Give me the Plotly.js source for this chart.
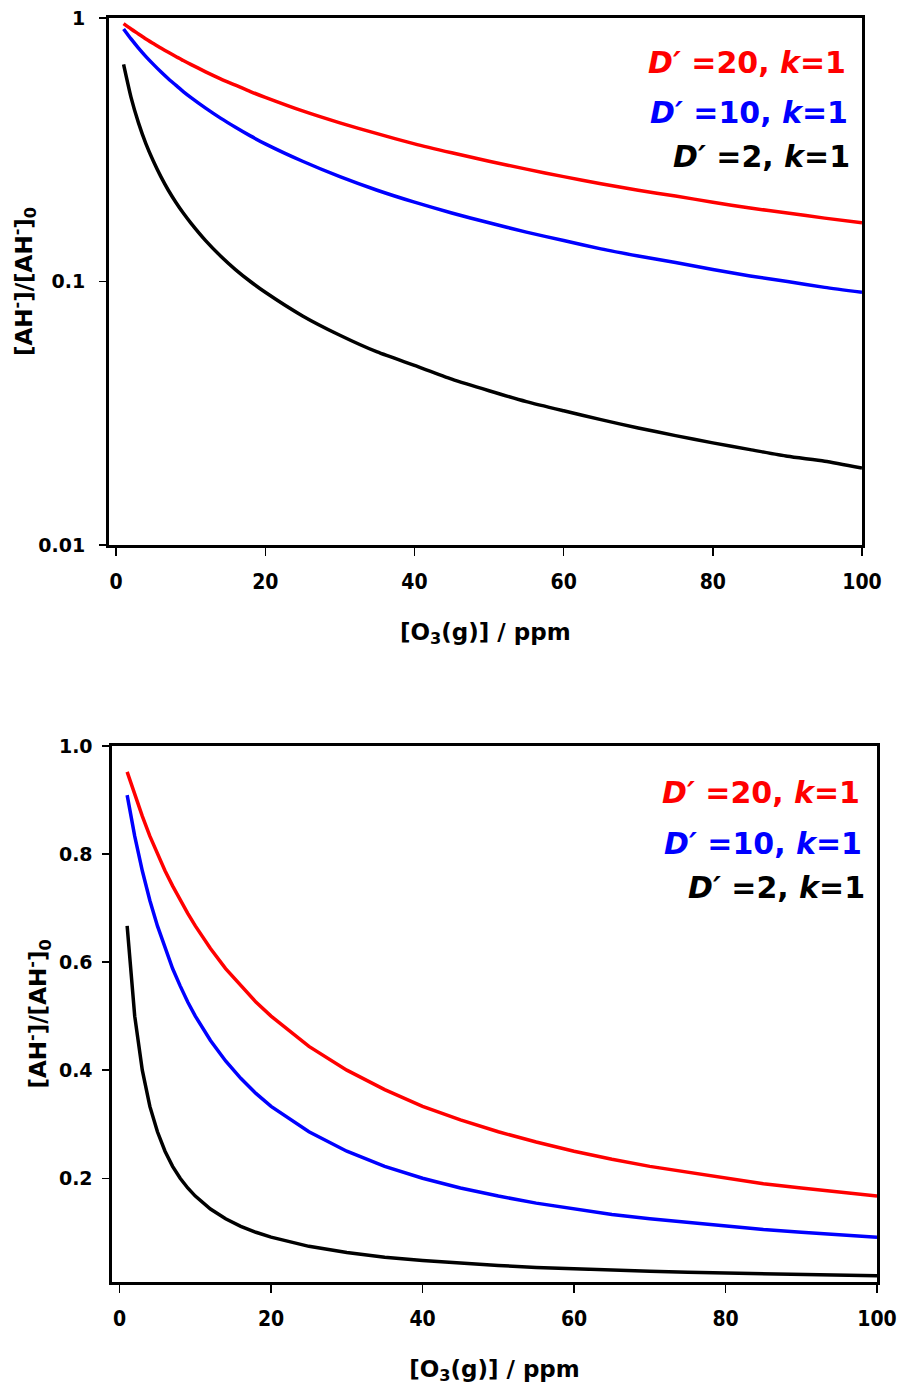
<!DOCTYPE html>
<html>
<head>
<meta charset="utf-8">
<script src="https://cdn.plot.ly/plotly-3.0.1.min.js"></script>
<style>html,body{margin:0;padding:0;background:#fff;}#chart{width:901px;height:1387px;}</style>
</head>
<body>
<div id="chart"></div>
<script>
// O3(g) concentration / ppm
const ozone = [1,2,3,4,5,6,7,8,9,10,12,14,16,18,20,25,30,35,40,45,50,55,60,65,70,75,80,85,90,95,100];
// [AH-]/[AH-]0 for D'=20, k=1
const ratioD20 = [0.952,0.909,0.870,0.833,0.800,0.769,0.741,0.714,0.690,0.667,0.625,0.588,0.556,0.526,0.500,0.444,0.400,0.364,0.333,0.308,0.286,0.267,0.250,0.235,0.222,0.211,0.200,0.190,0.182,0.174,0.167];
// D'=10, k=1
const ratioD10 = [0.909,0.833,0.769,0.714,0.667,0.625,0.588,0.556,0.526,0.500,0.455,0.417,0.385,0.357,0.333,0.286,0.250,0.222,0.200,0.182,0.167,0.154,0.143,0.133,0.125,0.118,0.111,0.105,0.100,0.095,0.091];
// D'=2, k=1
const ratioD2 = [0.667,0.500,0.400,0.333,0.286,0.250,0.222,0.200,0.182,0.167,0.143,0.125,0.111,0.100,0.091,0.074,0.0625,0.054,0.048,0.0426,0.0385,0.035,0.0323,0.0299,0.0278,0.026,0.0244,0.023,0.0217,0.0208,0.0196];

const seriesLabels = ["<b><i>D\u2032</i> =20, <i>k</i>=1</b>", "<b><i>D\u2032</i> =10, <i>k</i>=1</b>", "<b><i>D\u2032</i> =2, <i>k</i>=1</b>"];
const seriesColors = ["#ff0000", "#0000ff", "#000000"];
const seriesData = [ratioD20, ratioD10, ratioD2];

const logTickVals = [0.01, 0.1, 1];
const logTickText = ["0.01", "0.1", "1"];
const linTickVals = [0.2, 0.4, 0.6, 0.8, 1.0];
const linTickText = ["0.2", "0.4", "0.6", "0.8", "1.0"];
const xTickVals = [0, 20, 40, 60, 80, 100];

const traces = [];
seriesData.forEach((ys, i) => {
  traces.push({x: ozone, y: ys, type: 'scatter', mode: 'lines', line: {color: seriesColors[i], width: 3.5, shape: 'spline', smoothing: 0.6}, xaxis: 'x', yaxis: 'y', showlegend: false, hoverinfo: 'skip'});
  traces.push({x: ozone, y: ys, type: 'scatter', mode: 'lines', line: {color: seriesColors[i], width: 3.5}, xaxis: 'x2', yaxis: 'y2', showlegend: false, hoverinfo: 'skip'});
});

const heavy = 'DejaVu Sans, Liberation Sans, Arial';
const tickFontX = {family: 'Liberation Sans Narrow, DejaVu Sans Condensed, Liberation Sans', size: 21, color: '#000', weight: 'bold'};
const tickFontY = {family: heavy, size: 19, color: '#000', weight: 'bold'};
const xTitleFont = {family: heavy, size: 23, color: '#000', weight: 'bold'};
const yTitleFont = {family: heavy, size: 23, color: '#000', weight: 'bold'};
const legendFont = (c) => ({family: heavy, size: 30, color: c, weight: 'bold'});

function xAxis(domain, anchor) {
  return {
    domain: domain, anchor: anchor, range: [-1, 100], tickvals: xTickVals,
    ticks: 'outside', ticklen: 8, tickwidth: 1.4, tickcolor: '#000',
    showline: true, linewidth: 2.6, linecolor: '#000', mirror: true,
    showgrid: false, zeroline: false, tickfont: tickFontX, ticklabelstandoff: 8,
    title: {text: '<b>[O<sub>3</sub>(g)] / ppm</b>', font: xTitleFont, standoff: 31}
  };
}

const layout = {
  width: 901, height: 1387,
  margin: {l: 0, r: 0, t: 0, b: 0},
  paper_bgcolor: '#fff', plot_bgcolor: '#fff',
  showlegend: false,
  xaxis: xAxis([0.1206, 0.9567], 'y'),
  xaxis2: xAxis([0.1243, 0.9734], 'y2'),
  yaxis: {
    domain: [0.6071, 0.9870], anchor: 'x', type: 'log', range: [-2, 0],
    tickvals: logTickVals, ticktext: logTickText,
    ticks: 'outside', ticklen: 7, tickwidth: 1.4, tickcolor: '#000',
    showline: true, linewidth: 2.6, linecolor: '#000', mirror: true,
    showgrid: false, zeroline: false, tickfont: tickFontY, ticklabelstandoff: 10,
    title: {text: '<b>[AH<sup>-</sup>]/[AH<sup>-</sup>]<sub>0</sub></b>', font: yTitleFont, standoff: 0}
  },
  yaxis2: {
    domain: [0.0757, 0.4622], anchor: 'x2', range: [0.008, 1.0],
    tickvals: linTickVals, ticktext: linTickText,
    ticks: 'outside', ticklen: 7, tickwidth: 1.4, tickcolor: '#000',
    showline: true, linewidth: 2.6, linecolor: '#000', mirror: true,
    showgrid: false, zeroline: false, tickfont: tickFontY, ticklabelstandoff: 6,
    title: {text: '<b>[AH<sup>-</sup>]/[AH<sup>-</sup>]<sub>0</sub></b>', font: yTitleFont, standoff: 6}
  },
  annotations: [
    {xref: 'paper', yref: 'paper', x: 848/901, y: 1 - 62/1387, xanchor: 'right', yanchor: 'middle', text: seriesLabels[0], showarrow: false, font: legendFont(seriesColors[0])},
    {xref: 'paper', yref: 'paper', x: 850/901, y: 1 - 112/1387, xanchor: 'right', yanchor: 'middle', text: seriesLabels[1], showarrow: false, font: legendFont(seriesColors[1])},
    {xref: 'paper', yref: 'paper', x: 852/901, y: 1 - 156/1387, xanchor: 'right', yanchor: 'middle', text: seriesLabels[2], showarrow: false, font: legendFont(seriesColors[2])},
    {xref: 'paper', yref: 'paper', x: 862/901, y: 1 - 792/1387, xanchor: 'right', yanchor: 'middle', text: seriesLabels[0], showarrow: false, font: legendFont(seriesColors[0])},
    {xref: 'paper', yref: 'paper', x: 864/901, y: 1 - 843/1387, xanchor: 'right', yanchor: 'middle', text: seriesLabels[1], showarrow: false, font: legendFont(seriesColors[1])},
    {xref: 'paper', yref: 'paper', x: 867/901, y: 1 - 887/1387, xanchor: 'right', yanchor: 'middle', text: seriesLabels[2], showarrow: false, font: legendFont(seriesColors[2])}
  ]
};

Plotly.newPlot('chart', traces, layout, {staticPlot: true, displayModeBar: false});
</script>
</body>
</html>
